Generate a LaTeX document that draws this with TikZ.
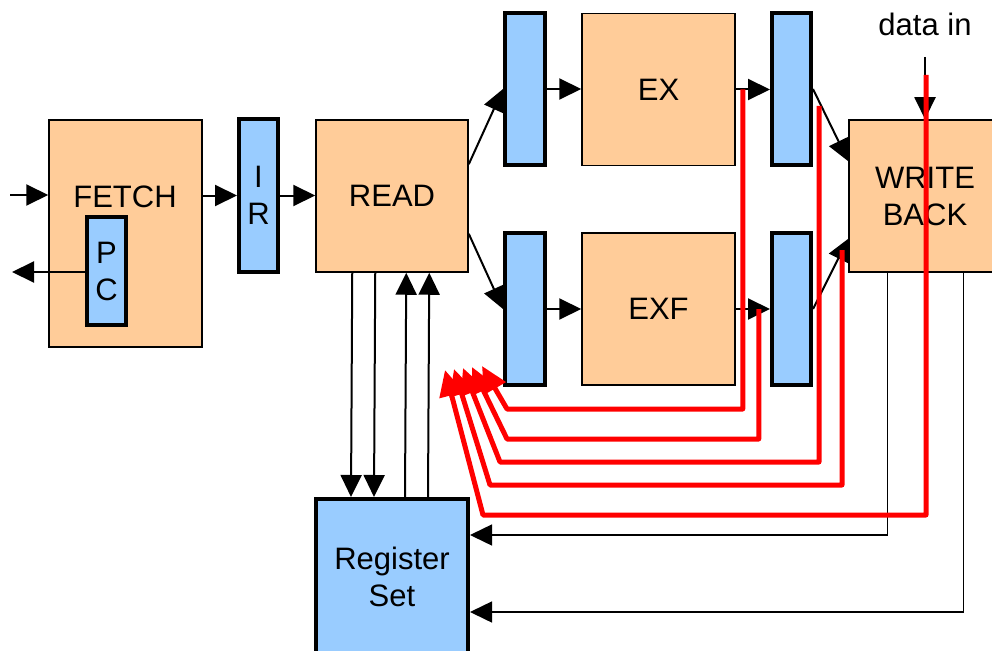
\documentclass[tikz,border=0pt]{standalone}
\usepackage{fontspec}
\setmainfont{Liberation Sans}
\usetikzlibrary{arrows.meta,calc}
\definecolor{peach}{HTML}{FFCC99}
\definecolor{lblue}{HTML}{99CCFF}
\begin{document}
\begin{tikzpicture}[x=1pt,y=-1pt,
  every node/.style={font=\fontsize{31}{37}\selectfont, inner sep=0pt, align=center},
  stagebox/.style={draw=black, fill=peach, line width=1.5pt, minimum width=152pt, minimum height=152pt},
  latch/.style={draw=black, fill=lblue, line width=4pt, minimum width=40pt, minimum height=152pt},
  arr/.style={line width=2pt, -{Triangle[length=22pt,width=21pt]}},
  thinarr/.style={line width=1.5pt, -{Triangle[length=22pt,width=21pt]}},
  redarr/.style={draw=red, line width=5pt, line join=round, -{Triangle[length=26pt,width=24pt]}}]
\useasboundingbox (0,0) rectangle (992,650);
\clip (0,0) rectangle (992,650);
% boxes
\node[stagebox, minimum width=153pt, minimum height=227pt] (fetch) at (125.5,233.5) {};
\node[anchor=base] (fetchlbl) at (125,207) {FETCH};
\node[latch, minimum width=39pt, minimum height=108pt] (pc) at (106.5,271) {P\\C};
\node[latch, minimum width=39pt, minimum height=153pt] (ir) at (258.5,195.5) {I\\R};
\node[stagebox] (read) at (392,196) {READ};
\node[latch] (l1a) at (525,89) {};
\node[stagebox, minimum width=153pt] (ex) at (658.5,89.5) {EX};
\node[latch, minimum width=39pt] (l2a) at (791.5,89) {};
\node[latch] (l1b) at (525,309) {};
\node[stagebox, minimum width=153pt] (exf) at (658.5,309) {EXF};
\node[latch, minimum width=39pt] (l2b) at (791.5,309) {};
\node[stagebox] (wb) at (925,196) {WRITE\\BACK};
\node[latch, minimum width=152pt, minimum height=156pt] (reg) at (392,577) {Register\\Set};
\node[anchor=base] (datain) at (925,36) {data in};
% black connectors
\coordinate (fin) at (10,195);
\coordinate (pcout) at (12,272);
\coordinate (din) at (925,57);
\draw[arr] (fin) -- (fin -| fetch.west);
\draw[arr] (pc.west |- pcout) -- (pcout);
\draw[arr] (fetch.east |- ir.west) -- (ir.west);
\draw[arr] (ir.east) -- (ir.east -| read.west);
\draw[arr] ($(read.north east)+(0,45)$) -- (l1a.west);
\draw[arr] ($(read.south east)+(0,-39)$) -- (l1b.west);
\draw[arr] (l1a.east) -- (l1a.east -| ex.west);
\draw[arr] (ex.east) -- (ex.east -| l2a.west);
\draw[arr] (l1b.east) -- (l1b.east -| exf.west);
\draw[arr] (exf.east) -- (exf.east -| l2b.west);
\draw[arr] (l2a.east) -- ($(wb.north west)+(0,42)$);
\draw[arr] (l2b.east) -- ($(wb.south west)+(0,-34)$);
\draw[arr] (din) -- (wb.north);
\foreach \dx in {37,60} \draw[arr] ($(read.south west)+(\dx,0)$) -- ($(reg.north west)+(\dx,0)$);
\foreach \dx in {91,114} \draw[arr] ($(reg.north west)+(\dx,0)$) -- ($(read.south west)+(\dx,0)$);
\draw[thinarr] ($(wb.south west)+(39,0)$) |- ($(reg.north east)+(0,38)$);
\draw[thinarr] ($(wb.south west)+(115,0)$) |- ($(reg.north east)+(0,115)$);
% red forwarding paths
\coordinate (r1s) at ($(ex.east)+(7,0)$);
\coordinate (r2s) at ($(exf.east)+(23,0)$);
\coordinate (r3s) at (819,106);
\coordinate (r4s) at (842,250);
\coordinate (r5s) at (926,75);
\coordinate (c1) at (507,409);
\coordinate (c2) at (507,439);
\coordinate (c3) at (500,462);
\coordinate (c4) at (490,485);
\coordinate (c5) at (483,515);
\coordinate (t1) at (482,366);
\coordinate (t2) at (472,367);
\coordinate (t3) at (463,368);
\coordinate (t4) at (454,369);
\coordinate (t5) at (445,370);
\draw[redarr] (r5s) |- (c5) -- (t5);
\draw[redarr] (r4s) |- (c4) -- (t4);
\draw[redarr] (r3s) |- (c3) -- (t3);
\draw[redarr] (r2s) |- (c2) -- (t2);
\draw[redarr] (r1s) |- (c1) -- (t1);
\end{tikzpicture}
\end{document}
